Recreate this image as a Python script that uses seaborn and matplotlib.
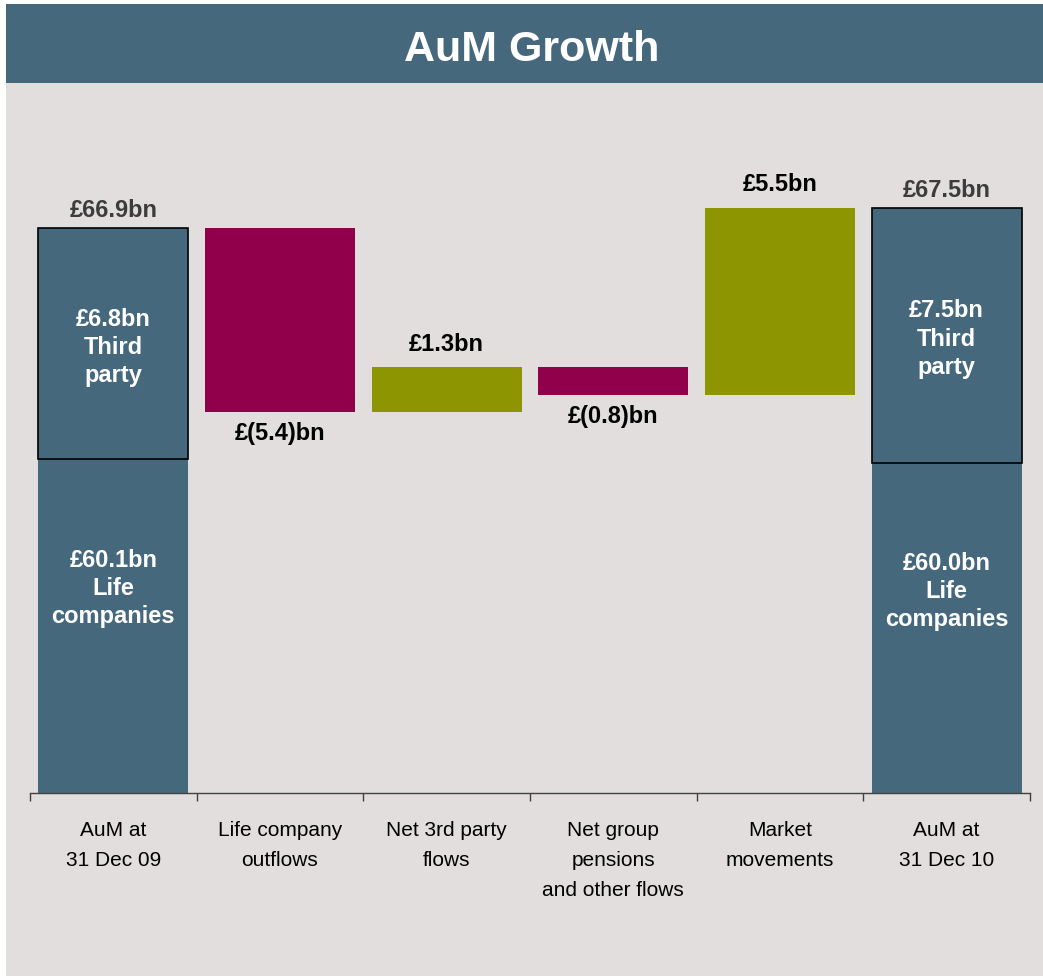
import numpy as np
import pandas as pd
import matplotlib
matplotlib.use("Agg")
import matplotlib.pyplot as plt
from matplotlib.patches import Rectangle
import seaborn as sns

# === Data ===
categories = ["AuM at\n31 Dec 09", "Life company\noutflows", "Net 3rd party\nflows",
              "Net group\npensions\nand other flows", "Market\nmovements", "AuM at\n31 Dec 10"]
life = [60.1, 60.0]          # life companies, opening / closing
third_party = [6.8, 7.5]     # third party, opening / closing
deltas = [-5.4, 1.3, -0.8, 5.5]
delta_labels = ["£(5.4)bn", "£1.3bn", "£(0.8)bn", "£5.5bn"]
total_labels = ["£66.9bn", "£67.5bn"]
life_labels = ["£60.1bn\nLife\ncompanies", "£60.0bn\nLife\ncompanies"]
third_labels = ["£6.8bn\nThird\nparty", "£7.5bn\nThird\nparty"]

BLUE = "#45687D"
CRIMSON = "#91004A"
OLIVE = "#8D9500"
BG = "#E1DEDD"

sns.set_theme(style="white")
plt.rcParams["font.family"] = ["Liberation Sans", "DejaVu Sans"]

W, H = 1043, 976
fig = plt.figure(figsize=(W / 100, H / 100), dpi=100, facecolor="white")

# background panel and title banner
fig.patches.append(Rectangle((6 / W, 0), 1 - 6 / W, 1 - 4 / H, transform=fig.transFigure,
                             facecolor=BG, edgecolor="none", zorder=-10))
fig.patches.append(Rectangle((6 / W, 1 - 83 / H), 1 - 6 / W, 79 / H, transform=fig.transFigure,
                             facecolor=BLUE, edgecolor="none", zorder=-9))
fig.text(532 / W, 1 - 50 / H, "AuM Growth", color="white", fontsize=31,
         fontweight="bold", ha="center", va="center")

ax = fig.add_axes([30 / W, 1 - 793 / H, 1000 / W, 693 / H])
ax.set_facecolor("none")
ax.set_zorder(5)

n = len(categories)
ends = [0, n - 1]
totals = [l + t for l, t in zip(life, third_party)]

# life companies part of the total bars (seaborn, clipped by ylim)
df_life = pd.DataFrame({"cat": categories, "life": [life[0], np.nan, np.nan, np.nan, np.nan, life[1]]})
sns.barplot(data=df_life, x="cat", y="life", order=categories, color=BLUE, saturation=1,
            width=0.9, linewidth=0, ax=ax)

# third party part, outlined
ax.bar(ends, third_party, bottom=life, width=0.9, color=BLUE, edgecolor="black",
       linewidth=1.2, zorder=3)

# floating deltas
level = totals[0]
for i, d in enumerate(deltas):
    x = i + 1
    start = level
    level = level + d
    color = OLIVE if d > 0 else CRIMSON
    ax.bar(x, d, bottom=start, width=0.9, color=color, linewidth=0, zorder=3)
    if d > 0:
        ax.annotate(delta_labels[i], (x, level), xytext=(0, 23), textcoords="offset pixels",
                    ha="center", va="center", fontsize=17, fontweight="bold", color="black")
    else:
        ax.annotate(delta_labels[i], (x, level), xytext=(0, -22), textcoords="offset pixels",
                    ha="center", va="center", fontsize=17, fontweight="bold", color="black")

for k, x in enumerate(ends):
    ax.annotate(total_labels[k], (x, totals[k]), xytext=(0, 17), textcoords="offset pixels",
                ha="center", va="center", fontsize=17, fontweight="bold", color="#3C3C3C")
    ax.annotate(third_labels[k], (x, life[k] + third_party[k] / 2), xytext=(0, -4),
                textcoords="offset pixels", ha="center", va="center", fontsize=17,
                fontweight="bold", color="white", linespacing=1.28, zorder=4)
    ax.text(x, life[k] - 3.8, life_labels[k], ha="center", va="center",
            fontsize=17, fontweight="bold", color="white", linespacing=1.28, zorder=4)

ax.set_xlim(-0.5, n - 0.5)
ax.set_ylim(50.28, 50.28 + 693 / 34)
ax.set_xlabel("")
ax.set_ylabel("")
ax.set_yticks([])
for s in ["top", "right", "left"]:
    ax.spines[s].set_visible(False)
ax.spines["bottom"].set_color("#404040")
ax.spines["bottom"].set_linewidth(1)
ax.set_xticks(range(n))
ax.set_xticklabels(categories, fontsize=15, linespacing=1.75, color="black", va="top")
ax.set_xticks(np.arange(-0.5, n), minor=True)
ax.tick_params(axis="x", which="major", length=0, pad=20)
ax.tick_params(axis="x", which="minor", length=6, width=1, color="#404040", direction="out",
               bottom=True)

fig.savefig("out.png", dpi=100, facecolor="white")
